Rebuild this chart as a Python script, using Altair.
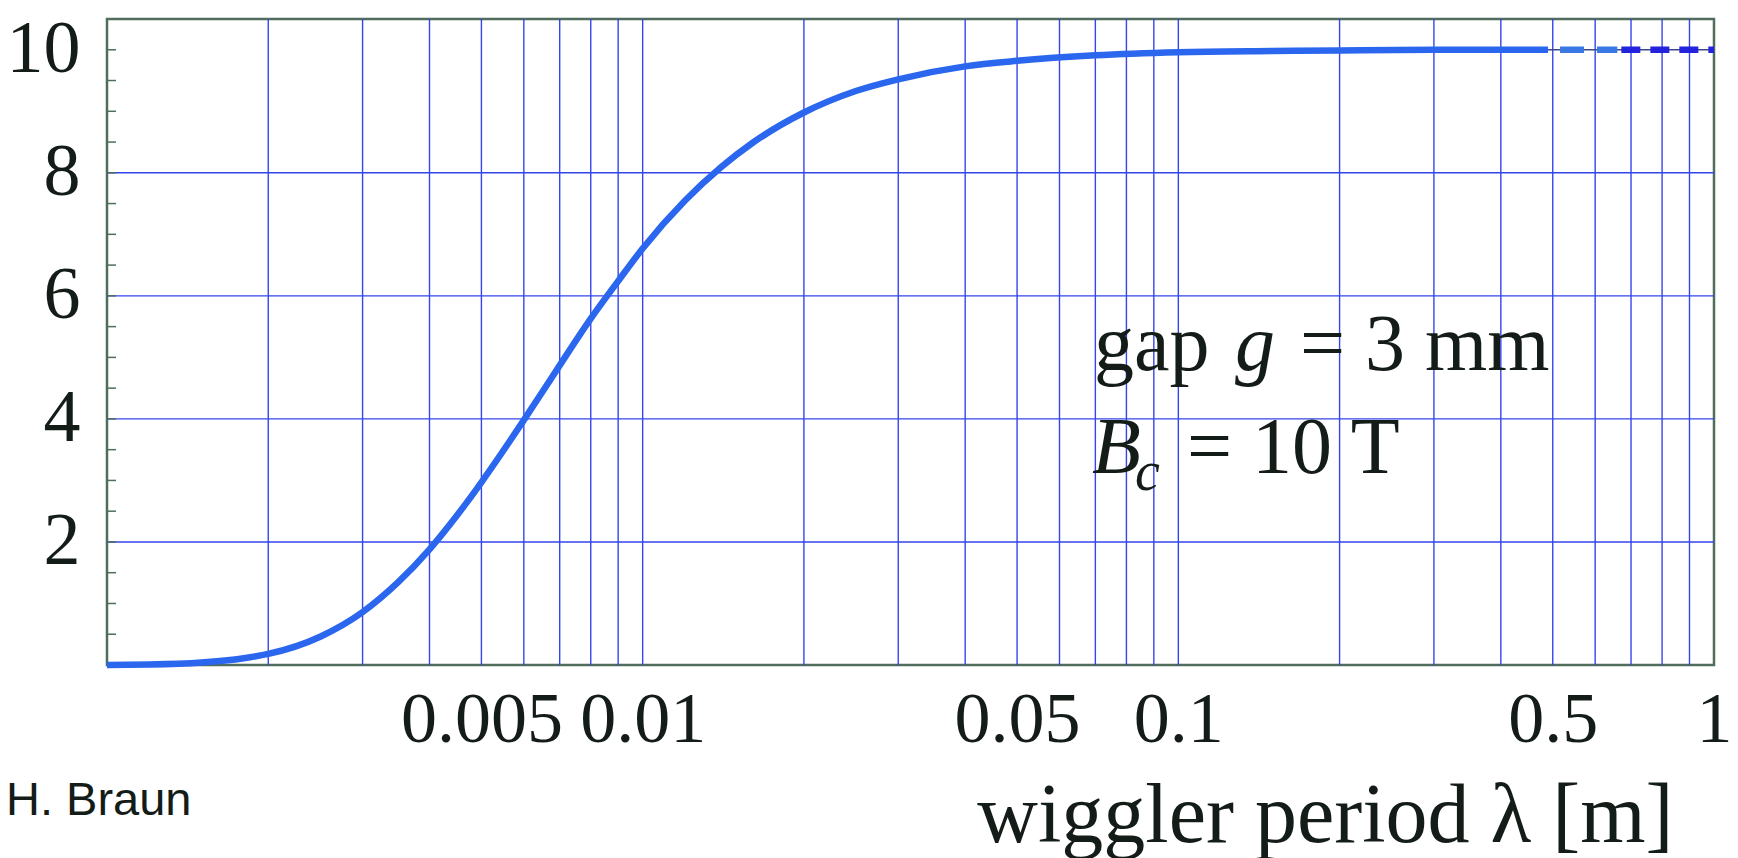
import altair as alt
import pandas as pd

# wiggler period lambda [m] and peak field [T]
lam_solid = [0.001, 0.0012, 0.0015, 0.0018, 0.002, 0.0025, 0.003, 0.0035, 0.004, 0.0045,
             0.005, 0.0055, 0.006, 0.0065, 0.007, 0.008, 0.009, 0.01, 0.012, 0.014,
             0.016, 0.02, 0.025, 0.03, 0.04, 0.05, 0.07, 0.1, 0.15, 0.2, 0.3, 0.49]
b_solid = [0.002, 0.008, 0.04, 0.11, 0.18, 0.46, 0.86, 1.35, 1.88, 2.43,
           2.97, 3.49, 3.98, 4.44, 4.87, 5.63, 6.24, 6.77, 7.55, 8.09,
           8.48, 8.98, 9.33, 9.52, 9.73, 9.82, 9.91, 9.96, 9.98, 9.99, 10.0, 10.0]
lam_dash_light = [0.49, 0.66]
b_dash_light = [10.0, 10.0]
lam_dash_dark = [0.66, 1.0]
b_dash_dark = [10.0, 10.0]

x_grid = [0.002, 0.003, 0.004, 0.005, 0.006, 0.007, 0.008, 0.009, 0.01,
          0.02, 0.03, 0.04, 0.05, 0.06, 0.07, 0.08, 0.09, 0.1,
          0.2, 0.3, 0.4, 0.5, 0.6, 0.7, 0.8, 0.9]
y_grid = [2, 4, 6, 8]
y_minor = [0.5, 1, 1.5, 2, 2.5, 3, 3.5, 4, 4.5, 5, 5.5, 6, 6.5, 7, 7.5, 8, 8.5, 9, 9.5, 10]
x_labels = [0.005, 0.01, 0.05, 0.1, 0.5, 1]
y_labels = [2, 4, 6, 8, 10]

W, H = 1607, 646
SERIF = "Liberation Serif"
GRID = "#3545ee"
FRAME = "#4f6e5e"
CURVE = "#2a66ee"
TXT = "#141c18"

xscale = alt.Scale(type="log", domain=[0.001, 1], nice=False)
yscale = alt.Scale(domain=[0, 10.5], nice=False, zero=False)

xaxis = alt.Axis(values=x_labels, labelExpr="'' + datum.value", grid=False, ticks=False,
                 domain=False, labelFont=SERIF, labelFontSize=72, labelColor=TXT,
                 labelPadding=19, labelOverlap=False, labelFlush=False,
                 title="wiggler period λ [m]", titleFont=SERIF, titleFontSize=84,
                 titleFontWeight="normal", titleColor=TXT, titleAnchor="end",
                 titleAlign="right", titleBaseline="alphabetic", titleX=1566, titleY=176)
yaxis = alt.Axis(values=y_labels, labelExpr="'' + datum.value", grid=False, ticks=False,
                 domain=False, labelFont=SERIF, labelFontSize=74, labelColor=TXT,
                 labelPadding=27, title=None)

gx = pd.DataFrame({"lam": x_grid})
gy = pd.DataFrame({"b": y_grid})
ty = pd.DataFrame({"b": y_minor})
solid = pd.DataFrame({"lam": lam_solid, "b": b_solid})
dash_l = pd.DataFrame({"lam": lam_dash_light, "b": b_dash_light})
dash_d = pd.DataFrame({"lam": lam_dash_dark, "b": b_dash_dark})
dash_all = pd.DataFrame({"lam": lam_dash_light + lam_dash_dark,
                         "b": b_dash_light + b_dash_dark})

vgrid = alt.Chart(gx).mark_rule(color=GRID, strokeWidth=1.4).encode(
    x=alt.X("lam:Q", scale=xscale, axis=xaxis))
hgrid = alt.Chart(gy).mark_rule(color=GRID, strokeWidth=1.4).encode(
    y=alt.Y("b:Q", scale=yscale, axis=yaxis))
ticks = alt.Chart(ty).mark_rule(color=FRAME, strokeWidth=1.5).encode(
    x=alt.value(0), x2=alt.value(9), y=alt.Y("b:Q", scale=yscale))

line_solid = alt.Chart(solid).mark_line(color=CURVE, strokeWidth=6.5, interpolate="monotone",
                                        strokeCap="butt").encode(
    x=alt.X("lam:Q", scale=xscale), y=alt.Y("b:Q", scale=yscale))
thin = alt.Chart(dash_all).mark_line(color="#3a4a80", strokeWidth=1.5).encode(
    x=alt.X("lam:Q", scale=xscale), y=alt.Y("b:Q", scale=yscale))
line_dash_l = alt.Chart(dash_l).mark_line(color="#3a78e6", strokeWidth=6.5,
                                          strokeDash=[24, 13], strokeDashOffset=-12,
                                          strokeCap="butt").encode(
    x=alt.X("lam:Q", scale=xscale), y=alt.Y("b:Q", scale=yscale))
line_dash_d = alt.Chart(dash_d).mark_line(color="#2323dd", strokeWidth=6.5,
                                          strokeDash=[19, 10], strokeDashOffset=-4,
                                          strokeCap="butt").encode(
    x=alt.X("lam:Q", scale=xscale), y=alt.Y("b:Q", scale=yscale))

def label(txt, x, y, size=80, style="normal", font=SERIF):
    return alt.Chart(pd.DataFrame({"t": [txt]})).mark_text(
        align="left", baseline="alphabetic", font=font, fontSize=size, fontStyle=style,
        color=TXT).encode(text="t:N", x=alt.value(x), y=alt.value(y))

ann = [
    label("gap", 987, 351),
    label("g", 1128, 351, style="italic"),
    label("= 3 mm", 1193, 351),
    label("B", 985, 454, style="italic"),
    label("c", 1028, 471, size=56, style="italic"),
    label("= 10 T", 1080, 454),
    label("H. Braun", -101, 796, size=47, font="Liberation Sans"),
]

chart = alt.layer(vgrid, hgrid, ticks, line_solid, thin, line_dash_l, line_dash_d,
                  *ann).properties(
    width=W, height=H,
    autosize=alt.AutoSizeParams(type="none"),
    padding={"left": 107, "top": 19, "right": 24, "bottom": 193},
    background="white",
).configure_view(stroke=FRAME, strokeWidth=2.5)

chart.save("out.html", embed_options={"renderer": "svg", "actions": False})
